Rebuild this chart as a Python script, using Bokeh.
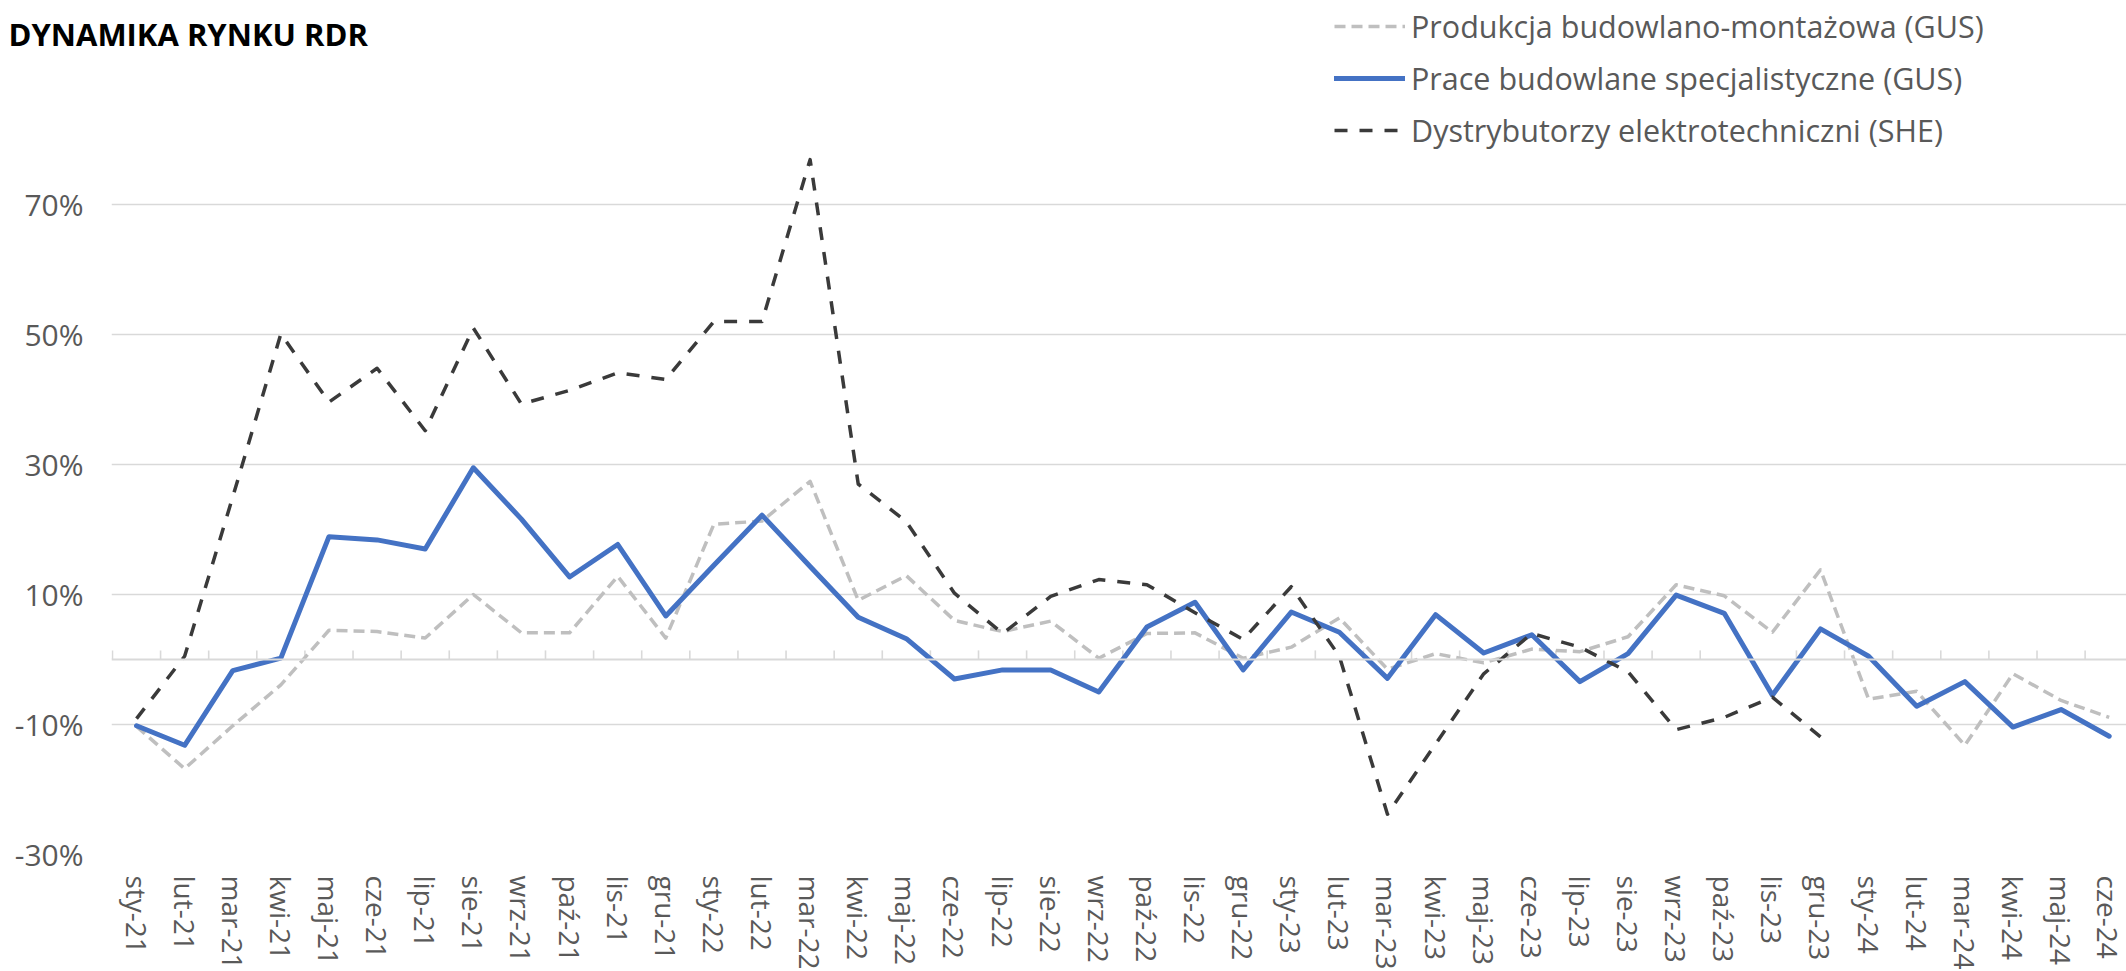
import numpy as np
from bokeh.plotting import figure
from bokeh.layouts import column
from bokeh.models import Range1d, FixedTicker, Span, Legend, LegendItem, Label
from bokeh.embed import file_html
from bokeh.resources import INLINE

# ---------------- data ----------------
months = [
    "sty-21", "lut-21", "mar-21", "kwi-21", "maj-21", "cze-21", "lip-21", "sie-21", "wrz-21", "paź-21", "lis-21", "gru-21",
    "sty-22", "lut-22", "mar-22", "kwi-22", "maj-22", "cze-22", "lip-22", "sie-22", "wrz-22", "paź-22", "lis-22", "gru-22",
    "sty-23", "lut-23", "mar-23", "kwi-23", "maj-23", "cze-23", "lip-23", "sie-23", "wrz-23", "paź-23", "lis-23", "gru-23",
    "sty-24", "lut-24", "mar-24", "kwi-24", "maj-24", "cze-24",
]

produkcja = [
    -10.3, -16.8, -10.2, -3.9, 4.5, 4.3, 3.3, 10.0, 4.1, 4.1, 12.8, 3.3,
    20.8, 21.3, 27.4, 9.1, 12.9, 6.0, 4.3, 5.9, 0.2, 4.0, 4.1, 0.2,
    1.9, 6.4, -1.5, 0.9, -0.5, 1.6, 1.2, 3.5, 11.5, 9.8, 4.2, 13.8,
    -6.1, -4.9, -13.2, -2.2, -6.3, -8.9,
]

prace = [
    -10.2, -13.2, -1.7, 0.2, 18.9, 18.4, 17.0, 29.5, 21.6, 12.7, 17.7, 6.7,
    14.5, 22.2, 14.3, 6.5, 3.2, -3.0, -1.6, -1.6, -5.0, 5.0, 8.8, -1.6,
    7.3, 4.2, -2.9, 6.9, 1.0, 3.8, -3.4, 0.9, 9.9, 7.1, -5.5, 4.7,
    0.5, -7.2, -3.4, -10.4, -7.7, -11.8,
]

dystrybutorzy = [
    -9.1, 0.5, 25.0, 50.1, 39.6, 44.8, 35.2, 51.0, 39.3, 41.4, 44.1, 43.1,
    52.0, 52.0, 76.9, 27.0, 21.2, 10.2, 4.0, 9.7, 12.3, 11.5, 7.2, 3.1,
    11.2, 0.5, -23.8, -13.0, -2.2, 4.0, 1.9, -1.9, -10.8, -8.9, -5.8, -11.9,
]

series_names = [
    "Produkcja budowlano-montażowa (GUS)",
    "Prace budowlane specjalistyczne (GUS)",
    "Dystrybutorzy elektrotechniczni (SHE)",
]

y_ticks = [-30, -10, 10, 30, 50, 70]
y_tick_labels = ["-30%", "-10%", "10%", "30%", "50%", "70%"]

title_text = "DYNAMIKA RYNKU RDR"

# ---------------- styles ----------------
FONT = "Open Sans"
GRID = "#D9D9D9"
TXT = "#595959"
STYLES = [
    dict(line_color="#BFBFBF", line_width=3.5, line_dash="11 6", line_join="round"),
    dict(line_color="#4472C4", line_width=5, line_join="round", line_cap="round"),
    dict(line_color="#3A3A3A", line_width=3.5, line_dash="13 12", line_join="round"),
]

TOTAL_W = 2126
HEAD_H = 152
LEFT = 111
FRAME_W, FRAME_H = TOTAL_W - LEFT, 702

# ---------------- header (title + legend) ----------------
head = figure(
    width=TOTAL_W, height=HEAD_H, output_backend="svg", toolbar_location=None,
    x_range=Range1d(0, 1), y_range=Range1d(0, 1),
    x_axis_type=None, y_axis_type=None, min_border=0,
    background_fill_color="white", border_fill_color="white",
)
head.outline_line_color = None

# legend swatches: invisible renderers that only carry each series' line style
nan2 = [float("nan")] * 2
swatches = [head.line(x=nan2, y=nan2, **s) for s in STYLES]
legend = Legend(
    items=[LegendItem(label=n, renderers=[r]) for n, r in zip(series_names, swatches)],
    location=(1334, 1),
    orientation="vertical",
    glyph_width=71, glyph_height=40, label_height=40,
    label_standoff=6, spacing=10, padding=0, margin=0,
    border_line_color=None, background_fill_alpha=0,
    label_text_font=FONT, label_text_font_size="30.5px", label_text_color=TXT,
)
head.add_layout(legend, "center")

head.add_layout(Label(
    x=8, y=HEAD_H - 33, x_units="screen", y_units="screen",
    text=title_text, text_font=FONT, text_font_style="bold",
    text_font_size="31px", text_color="black", text_baseline="alphabetic",
))

# ---------------- main chart ----------------
p = figure(
    frame_width=FRAME_W, frame_height=FRAME_H,
    output_backend="svg", toolbar_location=None,
    x_range=Range1d(-0.52, 41.36), y_range=Range1d(-30, 78),
    min_border_left=LEFT, min_border_right=0, min_border_top=0, min_border_bottom=0,
    background_fill_color="white", border_fill_color="white",
)
p.outline_line_color = None

# header and chart keep their own frames (no frame alignment in the column)
for fig in (head, p):
    try:
        fig.frame_align = False
    except Exception:
        pass

idx = np.arange(len(months))

p.xaxis.ticker = FixedTicker(ticks=list(idx))
p.xaxis.major_label_overrides = {int(i): m for i, m in zip(idx, months)}
p.xaxis.major_label_orientation = "vertical"
p.xaxis.major_label_text_font = FONT
p.xaxis.major_label_text_font_size = "28px"
p.xaxis.major_label_text_color = TXT
p.xaxis.major_label_standoff = 21
p.xaxis.axis_line_color = None
p.xaxis.major_tick_line_color = None
p.xaxis.minor_tick_line_color = None
p.xaxis.major_tick_out = 0
p.xaxis.major_tick_in = 0

p.yaxis.ticker = FixedTicker(ticks=y_ticks)
p.yaxis.major_label_overrides = {t: l for t, l in zip(y_ticks, y_tick_labels)}
p.yaxis.major_label_text_font = FONT
p.yaxis.major_label_text_font_size = "30px"
p.yaxis.major_label_text_color = TXT
p.yaxis.major_label_standoff = 28
p.yaxis.axis_line_color = None
p.yaxis.major_tick_line_color = None
p.yaxis.minor_tick_line_color = None
p.yaxis.major_tick_out = 0
p.yaxis.major_tick_in = 0

p.xgrid.visible = False
p.ygrid.ticker = FixedTicker(ticks=y_ticks)
p.ygrid.grid_line_color = GRID
p.ygrid.grid_line_width = 1.6

# zero axis line with category-boundary tick marks
p.add_layout(Span(location=0, dimension="width", line_color=GRID, line_width=2))
bounds = np.arange(len(months) + 1) - 0.5
p.segment(x0=bounds, x1=bounds, y0=np.zeros_like(bounds), y1=np.full_like(bounds, 1.4),
          line_color=GRID, line_width=1.6)

p.line(idx, produkcja, **STYLES[0])
p.line(idx, prace, **STYLES[1])
p.line(idx[:len(dystrybutorzy)], dystrybutorzy, **STYLES[2])

layout = column(head, p, spacing=0)

open("out.html", "w").write(file_html(layout, INLINE))
